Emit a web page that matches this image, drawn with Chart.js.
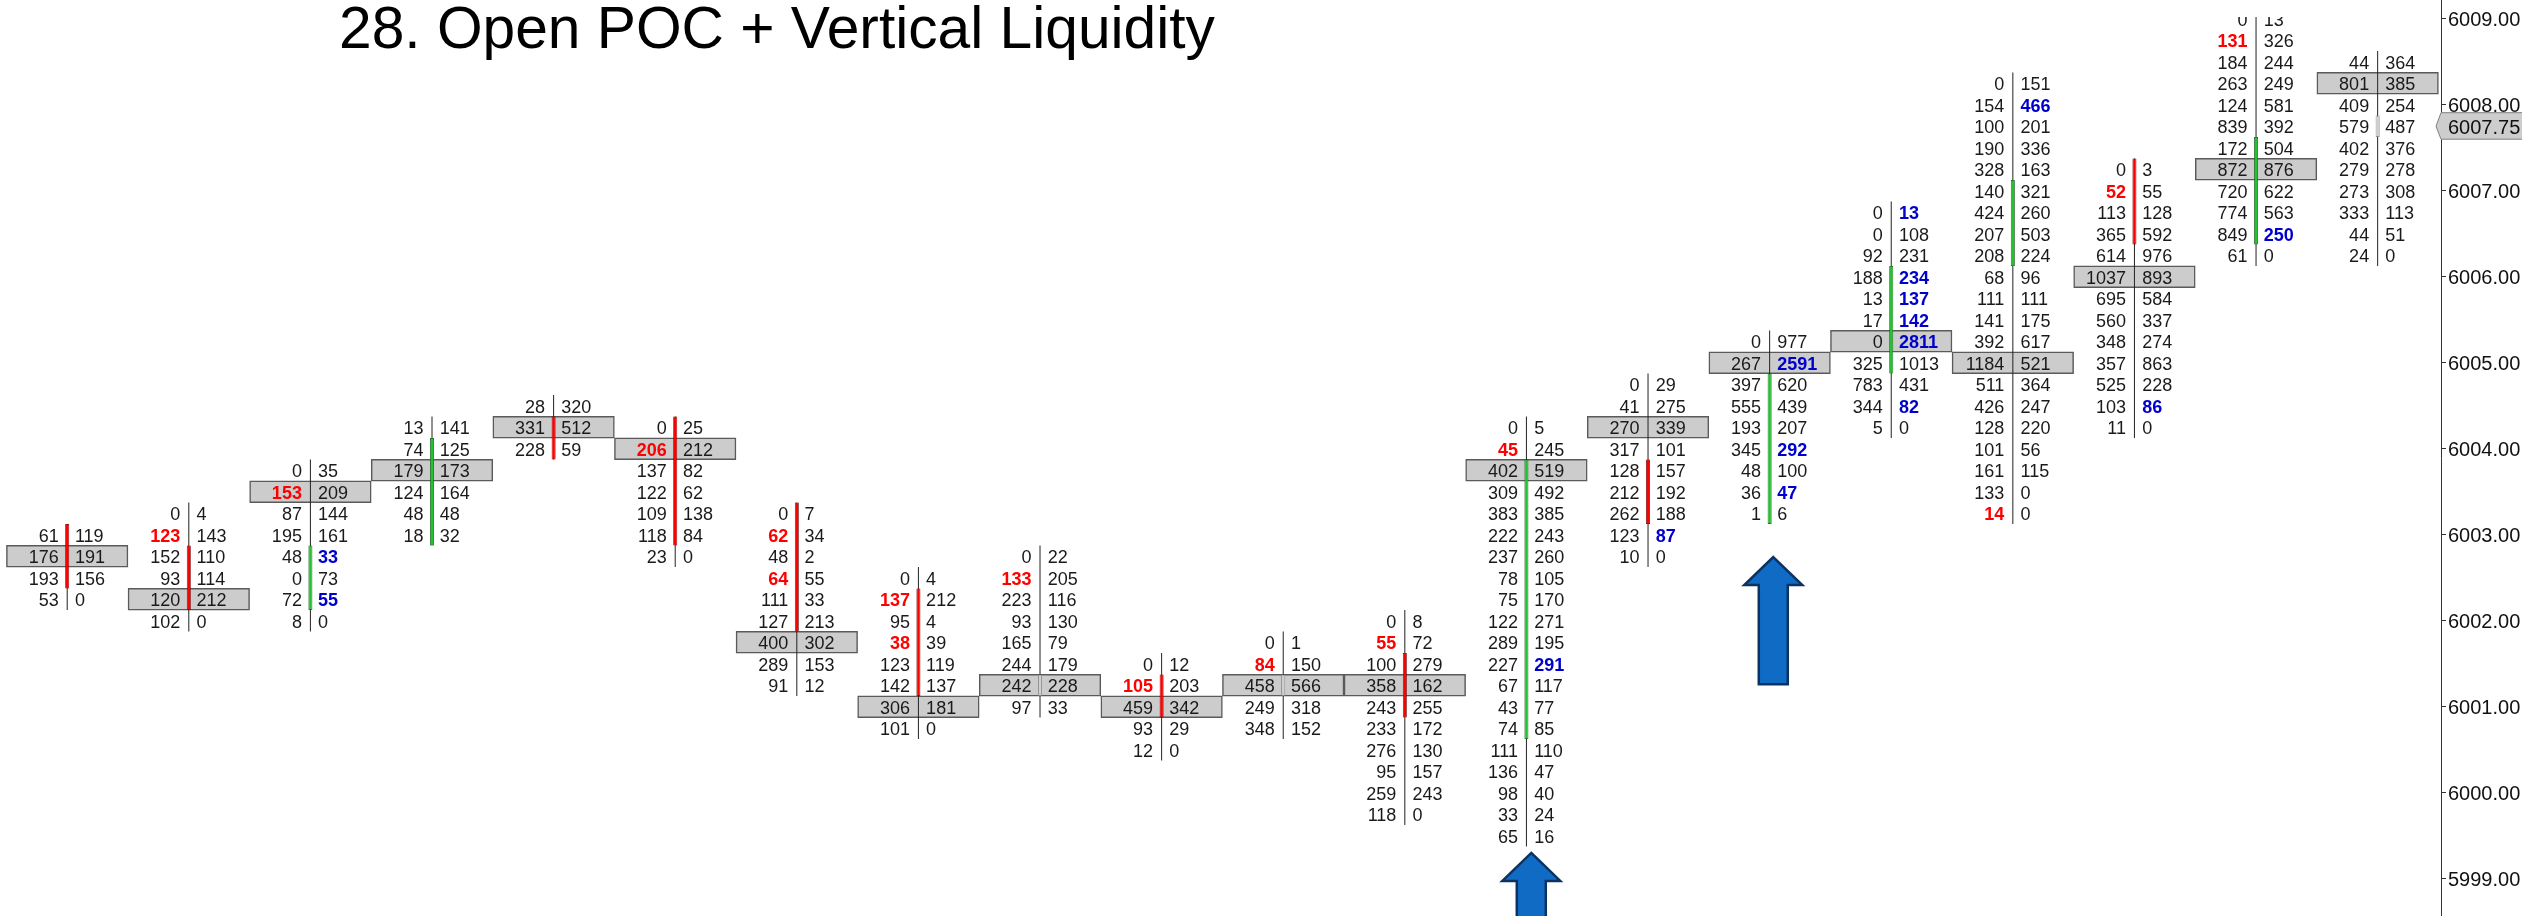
<!DOCTYPE html>
<html>
<head>
<meta charset="utf-8">
<title>28. Open POC + Vertical Liquidity</title>
<style>
  html, body { margin: 0; padding: 0; background: #fff; overflow: hidden; }
  canvas { display: block; }
</style>
<script src="https://cdn.jsdelivr.net/npm/chart.js@4/dist/chart.umd.min.js"></script>
</head>
<body>
<canvas id="footprintChart" width="2522" height="916"></canvas>
<script>
var chartTitle = '28. Open POC + Vertical Liquidity';
var priceTicks = [5999, 6000, 6001, 6002, 6003, 6004, 6005, 6006, 6007, 6008, 6009];
var lastPrice = 6007.75;
var rowSize = 0.25;

// price of the first row of every footprint bar
var topPrices = [6003, 6003.25, 6003.75, 6004.25, 6004.5, 6004.25, 6003.25, 6002.5, 6002.75, 6001.5,
                 6001.75, 6002, 6004.25, 6004.75, 6005.25, 6006.75, 6008.25, 6007.25, 6009, 6008.5];

var bidVolumes = [
  [61, 176, 193, 53],
  [0, 123, 152, 93, 120, 102],
  [0, 153, 87, 195, 48, 0, 72, 8],
  [13, 74, 179, 124, 48, 18],
  [28, 331, 228],
  [0, 206, 137, 122, 109, 118, 23],
  [0, 62, 48, 64, 111, 127, 400, 289, 91],
  [0, 137, 95, 38, 123, 142, 306, 101],
  [0, 133, 223, 93, 165, 244, 242, 97],
  [0, 105, 459, 93, 12],
  [0, 84, 458, 249, 348],
  [0, 55, 100, 358, 243, 233, 276, 95, 259, 118],
  [0, 45, 402, 309, 383, 222, 237, 78, 75, 122, 289, 227, 67, 43, 74, 111, 136, 98, 33, 65],
  [0, 41, 270, 317, 128, 212, 262, 123, 10],
  [0, 267, 397, 555, 193, 345, 48, 36, 1],
  [0, 0, 92, 188, 13, 17, 0, 325, 783, 344, 5],
  [0, 154, 100, 190, 328, 140, 424, 207, 208, 68, 111, 141, 392, 1184, 511, 426, 128, 101, 161, 133, 14],
  [0, 52, 113, 365, 614, 1037, 695, 560, 348, 357, 525, 103, 11],
  [0, 131, 184, 263, 124, 839, 172, 872, 720, 774, 849, 61],
  [44, 801, 409, 579, 402, 279, 273, 333, 44, 24]
];

var askVolumes = [
  [119, 191, 156, 0],
  [4, 143, 110, 114, 212, 0],
  [35, 209, 144, 161, 33, 73, 55, 0],
  [141, 125, 173, 164, 48, 32],
  [320, 512, 59],
  [25, 212, 82, 62, 138, 84, 0],
  [7, 34, 2, 55, 33, 213, 302, 153, 12],
  [4, 212, 4, 39, 119, 137, 181, 0],
  [22, 205, 116, 130, 79, 179, 228, 33],
  [12, 203, 342, 29, 0],
  [1, 150, 566, 318, 152],
  [8, 72, 279, 162, 255, 172, 130, 157, 243, 0],
  [5, 245, 519, 492, 385, 243, 260, 105, 170, 271, 195, 291, 117, 77, 85, 110, 47, 40, 24, 16],
  [29, 275, 339, 101, 157, 192, 188, 87, 0],
  [977, 2591, 620, 439, 207, 292, 100, 47, 6],
  [13, 108, 231, 234, 137, 142, 2811, 1013, 431, 82, 0],
  [151, 466, 201, 336, 163, 321, 260, 503, 224, 96, 111, 175, 617, 521, 364, 247, 220, 56, 115, 0, 0],
  [3, 55, 128, 592, 976, 893, 584, 337, 274, 863, 228, 86, 0],
  [13, 326, 244, 249, 581, 392, 504, 876, 622, 563, 250, 0],
  [364, 385, 254, 487, 376, 278, 308, 113, 51, 0]
];

// row numbers inside each bar
var pocRows = [1, 4, 1, 2, 1, 1, 6, 6, 6, 2, 2, 3, 2, 2, 1, 6, 13, 5, 7, 1];
var bodyFirstRows = [0, 2, 4, 1, 1, 0, 0, 1, 6, 1, 2, 2, 2, 4, 2, 3, 5, 0, 6, 3];
var bodyLastRows = [2, 4, 6, 5, 2, 5, 5, 5, 6, 2, 2, 4, 14, 6, 8, 7, 8, 3, 10, 3];
var bodyTypes = ['down', 'down', 'up', 'up', 'down', 'down', 'down', 'down', 'flat', 'down',
                 'flat', 'down', 'up', 'down', 'up', 'up', 'up', 'down', 'up', 'flat'];
var redBidRows = [[], [1], [1], [], [], [1], [1, 3], [1, 3], [1], [1], [1], [1], [1], [], [], [], [20], [1], [1], []];
var blueAskRows = [[], [], [4, 6], [], [], [], [], [], [], [], [], [], [11], [7], [1, 5, 7], [0, 3, 4, 5, 6, 9], [1], [11], [10], []];

// block arrows: bar position, tip price, tail price
var arrowBars = [12.04, 14.03];
var arrowTips = [5999.3, 6002.74];
var arrowTails = [5998.0, 6001.26];

var fontName = '"Liberation Sans", Arial, sans-serif';
var bodyFill = { up: '#25c22f', down: '#ff0000', flat: '#d0d0d0' };
var bodyEdge = { up: '#145a1a', down: '#7a0000', flat: '#777777' };

function rowPrice(i, row) {
  return topPrices[i] - row * rowSize;
}

function rowBar(i, firstRow, lastRow) {
  return { x: i, y: [rowPrice(i, lastRow) - rowSize / 2, rowPrice(i, firstRow) + rowSize / 2] };
}

var wickData = topPrices.map(function (p, i) { return rowBar(i, 0, bidVolumes[i].length - 1); });
var pocData = pocRows.map(function (r, i) { return rowBar(i, r, r); });
var bodyData = bodyFirstRows.map(function (r, i) { return rowBar(i, r, bodyLastRows[i]); });

var CLIP_TOP = 17;

// bid x ask numbers, drawn next to the price rows
var footprintText = {
  id: 'footprintText',
  afterDatasetsDraw: function (chart) {
    var ctx = chart.ctx, x = chart.scales.x, y = chart.scales.y;
    ctx.save();
    ctx.beginPath();
    ctx.rect(chart.chartArea.left, CLIP_TOP, chart.chartArea.width, chart.chartArea.height);
    ctx.clip();
    ctx.textBaseline = 'middle';
    topPrices.forEach(function (p, i) {
      var cx = x.getPixelForValue(i);
      bidVolumes[i].forEach(function (bid, row) {
        var py = y.getPixelForValue(rowPrice(i, row)) + 2;
        var red = redBidRows[i].indexOf(row) >= 0;
        var blue = blueAskRows[i].indexOf(row) >= 0;
        ctx.textAlign = 'right';
        ctx.font = (red ? 'bold ' : '') + '18px ' + fontName;
        ctx.fillStyle = red ? '#ff0000' : '#1a1a1a';
        ctx.fillText(bid, cx - 8.5, py);
        ctx.textAlign = 'left';
        ctx.font = (blue ? 'bold ' : '') + '18px ' + fontName;
        ctx.fillStyle = blue ? '#0000cc' : '#1a1a1a';
        ctx.fillText(askVolumes[i][row], cx + 7.7, py);
      });
    });
    ctx.restore();
  }
};

var decorations = {
  id: 'decorations',
  afterDraw: function (chart) {
    var ctx = chart.ctx, x = chart.scales.x, y = chart.scales.y;

    // arrows
    arrowBars.forEach(function (bar, i) {
      var cx = x.getPixelForValue(bar);
      var tip = y.getPixelForValue(arrowTips[i]);
      var tail = y.getPixelForValue(arrowTails[i]);
      ctx.beginPath();
      ctx.moveTo(cx, tip);
      ctx.lineTo(cx + 29, tip + 28);
      ctx.lineTo(cx + 14.5, tip + 28);
      ctx.lineTo(cx + 14.5, tail);
      ctx.lineTo(cx - 14.5, tail);
      ctx.lineTo(cx - 14.5, tip + 28);
      ctx.lineTo(cx - 29, tip + 28);
      ctx.closePath();
      ctx.fillStyle = '#0f6bc4';
      ctx.fill();
      ctx.lineWidth = 2.5;
      ctx.strokeStyle = '#0c3261';
      ctx.stroke();
    });

    // last price tag on the axis
    var tagY = y.getPixelForValue(lastPrice);
    var axisX = chart.chartArea.right;
    ctx.beginPath();
    ctx.moveTo(axisX - 5, tagY);
    ctx.lineTo(axisX, tagY - 13.5);
    ctx.lineTo(chart.width + 2, tagY - 13.5);
    ctx.lineTo(chart.width + 2, tagY + 13);
    ctx.lineTo(axisX, tagY + 13);
    ctx.closePath();
    ctx.fillStyle = '#cdcdcd';
    ctx.fill();
    ctx.lineWidth = 1;
    ctx.strokeStyle = '#808080';
    ctx.stroke();
    ctx.fillStyle = '#111111';
    ctx.font = '20px ' + fontName;
    ctx.textAlign = 'left';
    ctx.textBaseline = 'middle';
    ctx.fillText(lastPrice.toFixed(2), axisX + 7, tagY + 2);

    // title
    ctx.fillStyle = '#000000';
    ctx.font = '58.7px ' + fontName;
    ctx.textAlign = 'left';
    ctx.textBaseline = 'alphabetic';
    ctx.fillText(chartTitle, 339, 48);
  }
};

var footprintChart = new Chart(document.getElementById('footprintChart').getContext('2d'), {
  type: 'bar',
  data: {
    datasets: [
      {
        label: 'Body',
        data: bodyData,
        order: 1,
        grouped: false,
        barThickness: 4,
        borderWidth: 0.8,
        borderSkipped: false,
        inflateAmount: 0,
        clip: { left: 0, top: -CLIP_TOP, right: 0, bottom: 0 },
        backgroundColor: bodyTypes.map(function (t) { return bodyFill[t]; }),
        borderColor: bodyTypes.map(function (t) { return bodyEdge[t]; })
      },
      {
        label: 'Wick',
        data: wickData,
        order: 2,
        grouped: false,
        barThickness: 1,
        borderWidth: 0,
        inflateAmount: 0,
        clip: { left: 0, top: -CLIP_TOP, right: 0, bottom: 0 },
        backgroundColor: '#222222'
      },
      {
        label: 'POC',
        data: pocData,
        order: 3,
        grouped: false,
        barThickness: 121.2,
        borderWidth: 1.5,
        borderSkipped: false,
        inflateAmount: 0.5,
        backgroundColor: '#cccccc',
        borderColor: '#5a5a5a'
      }
    ]
  },
  options: {
    responsive: false,
    animation: false,
    devicePixelRatio: 1,
    layout: { padding: 0 },
    plugins: {
      legend: { display: false },
      tooltip: { enabled: false }
    },
    scales: {
      x: {
        type: 'linear',
        display: false,
        offset: false,
        min: -0.5526,
        max: 19.521
      },
      y: {
        position: 'right',
        min: 5998.566,
        max: 6009.2174,
        afterBuildTicks: function (scale) {
          scale.ticks = priceTicks.map(function (v) { return { value: v }; });
        },
        afterFit: function (scale) {
          scale.width = 81;
          scale.paddingTop = 0;
          scale.paddingBottom = 0;
        },
        border: { color: '#333333', width: 1 },
        grid: { drawOnChartArea: false, tickLength: 5, color: '#333333' },
        ticks: {
          autoSkip: false,
          padding: 2,
          labelOffset: 1.5,
          color: '#111111',
          font: { family: fontName, size: 20 },
          callback: function (v) { return Number(v).toFixed(2); }
        }
      }
    }
  },
  plugins: [footprintText, decorations]
});
</script>
</body>
</html>
